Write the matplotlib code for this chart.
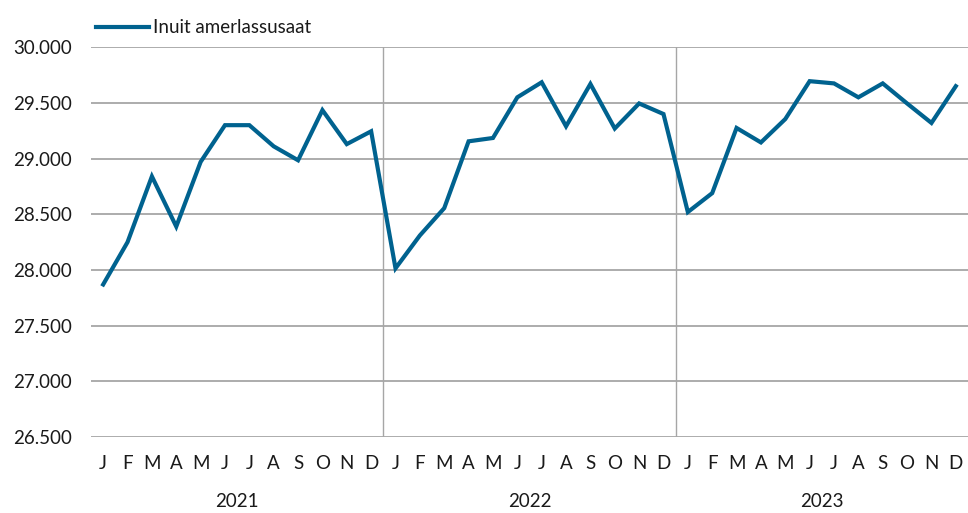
import matplotlib
matplotlib.use("Agg")
import matplotlib.pyplot as plt
from matplotlib.ticker import FuncFormatter
import matplotlib.transforms as mtransforms

plt.rcParams['font.family'] = ['Lato', 'DejaVu Sans']

# data
years = ["2021", "2022", "2023"]
months = ["J", "F", "M", "A", "M", "J", "J", "A", "S", "O", "N", "D"]
v2021 = [27870, 28250, 28840, 28390, 28970, 29300, 29300, 29110, 28985, 29435, 29130, 29245]
v2022 = [28015, 28310, 28555, 29155, 29185, 29550, 29685, 29290, 29670, 29270, 29495, 29400]
v2023 = [28520, 28690, 29275, 29145, 29355, 29695, 29675, 29550, 29675, 29495, 29320, 29650]
series_name = "Inuit amerlassusaat"

values = v2021 + v2022 + v2023
x = list(range(len(values)))
color = "#00628f"
grid_col = "#a6a6a6"
fs = 13.5

fig = plt.figure(figsize=(9.68, 5.13), dpi=100)
ax = fig.add_axes([0.094, 0.148, 0.906, 0.760])

ax.plot(x, values, color=color, lw=3.0, solid_joinstyle="miter", label=series_name, zorder=3)

ax.set_xlim(-0.5, len(values) - 0.5)
ax.set_ylim(26500, 30000)
ax.set_yticks(range(26500, 30001, 500))
ax.yaxis.set_major_formatter(FuncFormatter(lambda v, p: f"{int(v):,}".replace(",", ".")))
ax.grid(axis="y", color=grid_col, lw=1.3)
ax.set_axisbelow(True)

# year separators
for i in range(1, len(years)):
    ax.axvline(12 * i - 0.5, color=grid_col, lw=1.0, zorder=1)

for s in ax.spines.values():
    s.set_visible(False)

ax.set_xticks(x)
ax.set_xticklabels(months * len(years))
ax.tick_params(axis="both", length=0, labelsize=fs, colors="#1a1a1a")
ax.tick_params(axis="x", pad=13)
ax.tick_params(axis="y", pad=14)

trans = mtransforms.blended_transform_factory(ax.transData, fig.transFigure)
for i, yr in enumerate(years):
    ax.text(12 * i + 5.5, 0.006, yr, transform=trans, ha="center", va="bottom",
            fontsize=fs, color="#1a1a1a")

leg = fig.legend(loc="upper left", bbox_to_anchor=(0.082, 0.995), frameon=False,
                 fontsize=fs, handlelength=2.8, handletextpad=0.25)
for t in leg.get_texts():
    t.set_color("#1a1a1a")

fig.savefig("out.png", dpi=100)
